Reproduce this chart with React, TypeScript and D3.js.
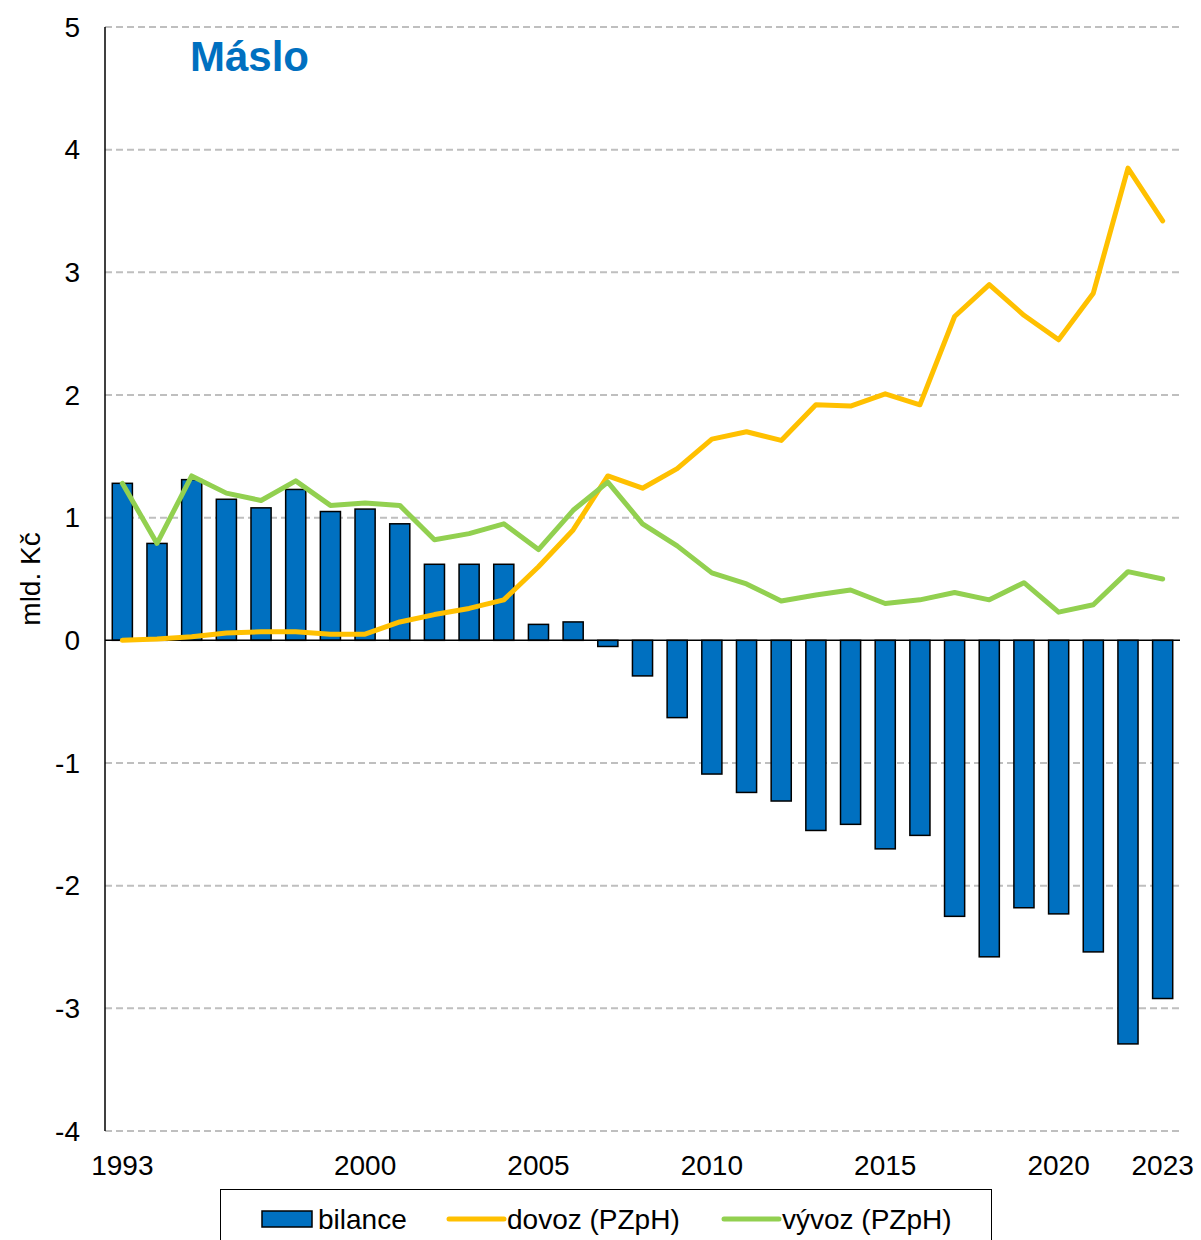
import React, { useEffect, useRef } from "react";
import * as d3 from "d3";

const width = 1201,
  height = 1240;

// roky
const years = d3.range(1993, 2024).map(String);
// bilance (mld. Kč)
const bilance = [
  1.28, 0.79, 1.31, 1.15, 1.08, 1.23, 1.05, 1.07, 0.95, 0.62, 0.62, 0.62, 0.13, 0.15, -0.05, -0.29,
  -0.63, -1.09, -1.24, -1.31, -1.55, -1.5, -1.7, -1.59, -2.25, -2.58, -2.18, -2.23, -2.54, -3.29, -2.92,
];
// dovoz (PZpH)
const dovoz = [
  0.0, 0.01, 0.03, 0.06, 0.07, 0.07, 0.05, 0.05, 0.15, 0.21, 0.26, 0.33, 0.6, 0.9, 1.34, 1.24, 1.4,
  1.64, 1.7, 1.63, 1.92, 1.91, 2.01, 1.92, 2.64, 2.9, 2.65, 2.45, 2.83, 3.85, 3.42,
];
// vývoz (PZpH)
const vyvoz = [
  1.28, 0.79, 1.34, 1.2, 1.14, 1.3, 1.1, 1.12, 1.1, 0.82, 0.87, 0.95, 0.74, 1.06, 1.29, 0.95, 0.77,
  0.55, 0.46, 0.32, 0.37, 0.41, 0.3, 0.33, 0.39, 0.33, 0.47, 0.23, 0.29, 0.56, 0.5,
];
const xTickLabels = ["1993", "2000", "2005", "2010", "2015", "2020", "2023"];
const yTicks = d3.range(-4, 6);

const margin = { top: 27, right: 21, bottom: 109, left: 105 };
const font = "'Liberation Sans', Arial, sans-serif";
const fs = 28;

function App() {
  const ref = useRef<SVGSVGElement>(null);

  useEffect(() => {
    const svg = d3.select(ref.current);
    svg.selectAll("*").remove();

    //měřítka
    const x = d3
      .scaleBand()
      .domain(years)
      .range([margin.left, width - margin.right])
      .paddingInner(0.42)
      .paddingOuter(0.21);
    const y = d3
      .scaleLinear()
      .domain([-4, 5])
      .range([height - margin.bottom, margin.top]);

    //mřížka
    svg
      .append("g")
      .selectAll("line")
      .data(yTicks.filter(d => d !== 0))
      .join("line")
      .attr("x1", margin.left)
      .attr("x2", width - margin.right)
      .attr("y1", d => y(d))
      .attr("y2", d => y(d))
      .attr("stroke", "#BFBFBF")
      .attr("stroke-width", 2)
      .attr("stroke-dasharray", "7,4");

    //popisky osy y
    svg
      .append("g")
      .attr("font-family", font)
      .attr("font-size", fs)
      .attr("text-anchor", "end")
      .selectAll("text")
      .data(yTicks)
      .join("text")
      .attr("x", 80)
      .attr("y", d => y(d))
      .attr("dy", "0.35em")
      .text(d => d);

    svg
      .append("text")
      .attr("transform", `translate(40,${(margin.top + height - margin.bottom) / 2}) rotate(-90)`)
      .attr("text-anchor", "middle")
      .attr("font-family", font)
      .attr("font-size", fs)
      .text("mld. Kč");

    //sloupce
    svg
      .append("g")
      .selectAll("rect")
      .data(bilance)
      .join("rect")
      .attr("x", (d, i) => x(years[i])!)
      .attr("width", x.bandwidth())
      .attr("y", d => y(Math.max(0, d)))
      .attr("height", d => Math.abs(y(d) - y(0)))
      .attr("fill", "#0070C0")
      .attr("stroke", "#000")
      .attr("stroke-width", 1.5);

    //osy
    svg
      .append("line")
      .attr("x1", margin.left)
      .attr("x2", width - margin.right)
      .attr("y1", y(0))
      .attr("y2", y(0))
      .attr("stroke", "#000")
      .attr("stroke-width", 1.5);
    svg
      .append("line")
      .attr("x1", margin.left)
      .attr("x2", margin.left)
      .attr("y1", y(5))
      .attr("y2", y(-4))
      .attr("stroke", "#000")
      .attr("stroke-width", 1.5);

    //čáry
    const line = d3
      .line<number>()
      .x((d, i) => x(years[i])! + x.bandwidth() / 2)
      .y(d => y(d));

    [
      { data: dovoz, color: "#FFC000" },
      { data: vyvoz, color: "#92D050" },
    ].forEach(s => {
      svg
        .append("path")
        .attr("d", line(s.data))
        .attr("fill", "none")
        .attr("stroke", s.color)
        .attr("stroke-width", 5)
        .attr("stroke-linejoin", "round")
        .attr("stroke-linecap", "round");
    });

    //popisky osy x
    svg
      .append("g")
      .attr("font-family", font)
      .attr("font-size", fs)
      .attr("text-anchor", "middle")
      .selectAll("text")
      .data(xTickLabels)
      .join("text")
      .attr("x", d => x(d)! + x.bandwidth() / 2)
      .attr("y", 1175)
      .text(d => d);

    //nadpis
    svg
      .append("text")
      .attr("x", 190)
      .attr("y", 71)
      .attr("font-family", font)
      .attr("font-size", 42)
      .attr("font-weight", "bold")
      .attr("fill", "#0070C0")
      .text("Máslo");

    //legenda
    const lg = svg.append("g").attr("font-family", font).attr("font-size", fs);
    lg.append("rect")
      .attr("x", 220.5)
      .attr("y", 1189.5)
      .attr("width", 771)
      .attr("height", 70)
      .attr("fill", "#fff")
      .attr("stroke", "#000")
      .attr("stroke-width", 1);
    lg.append("rect")
      .attr("x", 262)
      .attr("y", 1211)
      .attr("width", 50)
      .attr("height", 16)
      .attr("fill", "#0070C0")
      .attr("stroke", "#000")
      .attr("stroke-width", 1.5);
    lg.append("text").attr("x", 318).attr("y", 1229).text("bilance");
    lg.append("line")
      .attr("x1", 449)
      .attr("x2", 504)
      .attr("y1", 1219)
      .attr("y2", 1219)
      .attr("stroke", "#FFC000")
      .attr("stroke-width", 5)
      .attr("stroke-linecap", "round");
    lg.append("text").attr("x", 507).attr("y", 1229).text("dovoz (PZpH)");
    lg.append("line")
      .attr("x1", 724)
      .attr("x2", 779)
      .attr("y1", 1219)
      .attr("y2", 1219)
      .attr("stroke", "#92D050")
      .attr("stroke-width", 5)
      .attr("stroke-linecap", "round");
    lg.append("text").attr("x", 782).attr("y", 1229).text("vývoz (PZpH)");
  }, []);

  return (
    <svg
      ref={ref}
      width={width}
      height={height}
      style={{ position: "absolute", left: 0, top: 0, background: "#fff" }}
    />
  );
}

export default App;
